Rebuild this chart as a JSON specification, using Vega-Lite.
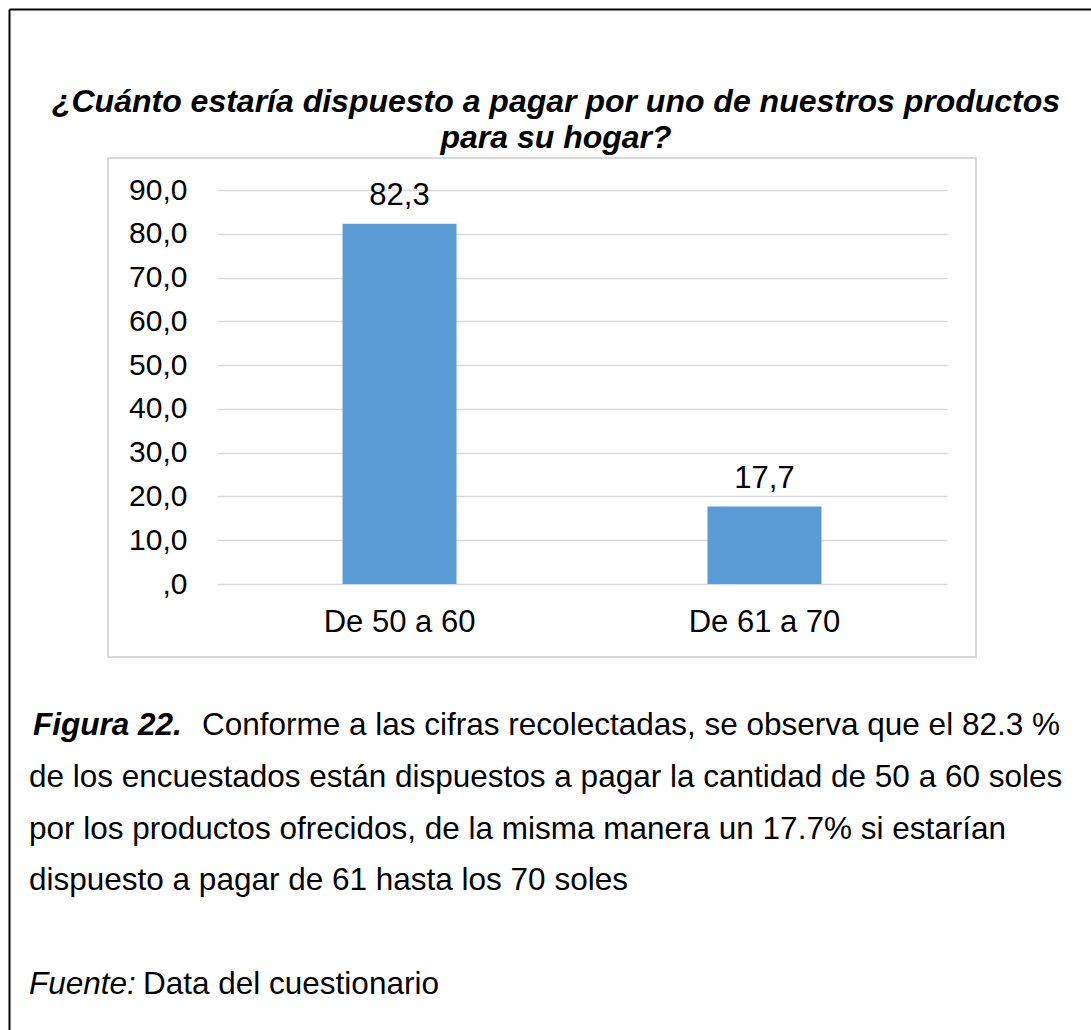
{
  "$schema": "https://vega.github.io/schema/vega-lite/v6.json",
  "width": 868,
  "height": 499,
  "autosize": {"type": "none"},
  "padding": {"left": 108, "top": 158, "right": 115, "bottom": 373},
  "background": "white",
  "config": {
    "font": "Liberation Sans",
    "view": {"stroke": "#d9d9d9", "strokeWidth": 2},
    "locale": {"number": {"decimal": ",", "thousands": ".", "grouping": [3], "currency": ["", " S/"]}}
  },
  "title": {
    "text": ["¿Cuánto estaría dispuesto a pagar por uno de nuestros productos", "para su hogar?"],
    "font": "Liberation Sans",
    "fontSize": 32,
    "fontWeight": "bold",
    "fontStyle": "italic",
    "color": "black",
    "anchor": "middle",
    "frame": "group",
    "lineHeight": 36,
    "dx": 14,
    "offset": -146
  },
  "layer": [
    {
      "data": {"values": [
        {"rango": "De 50 a 60", "porcentaje": 82.3},
        {"rango": "De 61 a 70", "porcentaje": 17.7}
      ]},
      "encoding": {
        "x": {
          "field": "rango", "type": "nominal", "sort": null,
          "scale": {"range": [109, 839], "paddingInner": 0.6877, "paddingOuter": 0.344},
          "axis": {"orient": "bottom", "offset": -73, "domain": false, "ticks": false, "labelAngle": 0,
                   "labelFontSize": 31, "labelColor": "black", "labelPadding": 23, "title": null, "grid": false}
        },
        "y": {
          "field": "porcentaje", "type": "quantitative",
          "scale": {"domain": [-16.67, 97.31], "nice": false, "zero": false},
          "axis": {"orient": "left", "offset": -109, "values": [0, 10, 20, 30, 40, 50, 60, 70, 80, 90],
                   "format": ".1f", "labelExpr": "datum.value == 0 ? ',0' : replace(datum.label, '.', ',')",
                   "domain": false, "ticks": false, "labelFontSize": 30, "labelColor": "black", "labelPadding": 30,
                   "grid": true, "gridColor": "#d9d9d9", "gridWidth": 1.5, "title": null}
        }
      },
      "layer": [
        {"mark": {"type": "bar", "color": "#5b9bd5"}, "encoding": {"y2": {"datum": 0}}},
        {"mark": {"type": "text", "fontSize": 31, "color": "black", "baseline": "alphabetic", "dy": -19},
         "encoding": {"text": {"field": "porcentaje", "type": "quantitative", "format": ".1f"}}}
      ]
    },
    {
      "data": {"values": [
        {"linea": 1, "parte": "figura", "texto": "Figura 22."},
        {"linea": 1, "parte": "inicio", "texto": "Conforme a las cifras recolectadas, se observa que el 82.3 %"},
        {"linea": 2, "parte": "cuerpo", "texto": "de los encuestados están dispuestos a pagar la cantidad de 50 a 60 soles"},
        {"linea": 3, "parte": "cuerpo", "texto": "por los productos ofrecidos, de la misma manera un 17.7% si estarían"},
        {"linea": 4, "parte": "cuerpo", "texto": "dispuesto a pagar de 61 hasta los 70 soles"},
        {"linea": 6, "parte": "fuente", "texto": "Fuente:"},
        {"linea": 6, "parte": "fuente_resto", "texto": "Data del cuestionario"}
      ]},
      "encoding": {
        "x": {
          "datum": 0, "type": "quantitative",
          "scale": {"domain": [-20, 1062], "range": [-99, 983], "nice": false, "zero": false},
          "axis": {"orient": "top", "offset": 149, "domainColor": "black", "domainWidth": 2,
                   "labels": false, "ticks": false, "grid": false, "title": null}
        },
        "y": {
          "field": "linea", "type": "quantitative",
          "scale": {"domain": [-13.0154, 6.8495], "range": [-149, 880], "nice": false, "zero": false},
          "axis": {"orient": "left", "offset": 99, "domainColor": "black", "domainWidth": 2,
                   "labels": false, "ticks": false, "grid": false, "title": null}
        },
        "text": {"field": "texto", "type": "nominal"}
      },
      "layer": [
        {"transform": [{"filter": "datum.parte == 'figura'"}],
         "mark": {"type": "text", "align": "left", "baseline": "alphabetic", "fontSize": 31.5, "fontWeight": "bold", "fontStyle": "italic", "color": "black", "dx": 4}},
        {"transform": [{"filter": "datum.parte == 'inicio'"}],
         "mark": {"type": "text", "align": "left", "baseline": "alphabetic", "fontSize": 31.5, "color": "black", "dx": 173}},
        {"transform": [{"filter": "datum.parte == 'cuerpo'"}],
         "mark": {"type": "text", "align": "left", "baseline": "alphabetic", "fontSize": 31.5, "color": "black"}},
        {"transform": [{"filter": "datum.parte == 'fuente'"}],
         "mark": {"type": "text", "align": "left", "baseline": "alphabetic", "fontSize": 31.5, "fontStyle": "italic", "color": "black"}},
        {"transform": [{"filter": "datum.parte == 'fuente_resto'"}],
         "mark": {"type": "text", "align": "left", "baseline": "alphabetic", "fontSize": 31.5, "color": "black", "dx": 114}}
      ]
    }
  ],
  "resolve": {
    "scale": {"x": "independent", "y": "independent"},
    "axis": {"x": "independent", "y": "independent"}
  }
}
